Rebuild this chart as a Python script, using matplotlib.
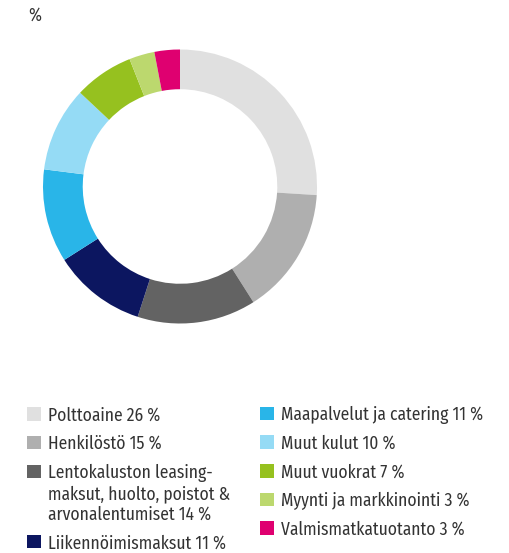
import matplotlib
matplotlib.use("Agg")
import matplotlib.pyplot as plt
from matplotlib import font_manager
from matplotlib.patches import Rectangle

names = ["Polttoaine", "Henkilöstö",
         "Lentokaluston leasing-\nmaksut, huolto, poistot &\narvonalentumiset",
         "Liikennöimismaksut", "Maapalvelut ja catering", "Muut kulut",
         "Muut vuokrat", "Myynti ja markkinointi", "Valmismatkatuotanto"]
values = [26, 15, 14, 11, 11, 10, 7, 3, 3]
colors = ["#e0e0e0", "#afafaf", "#636363", "#0c1660", "#29b5e8",
          "#95dbf5", "#96c11f", "#bcd86e", "#df0070"]

avail = {f.name for f in font_manager.fontManager.ttflist}
fam = next((f for f in ["Fira Sans Condensed", "Encode Sans Condensed",
                        "Roboto Condensed", "PT Sans Narrow"] if f in avail), "Roboto")
plt.rcParams['font.family'] = [fam, 'DejaVu Sans']

W, H = 510, 553
fig = plt.figure(figsize=(W / 100, H / 100), dpi=100)

cx, cy, R = 180, 186.5, 137
ax = fig.add_axes([(cx - R) / W, (H - cy - R) / H, 2 * R / W, 2 * R / H])
ax.pie(values, colors=colors, startangle=90, counterclock=False,
       radius=1, wedgeprops=dict(width=0.29, linewidth=0))
ax.set_xlim(-1, 1)
ax.set_ylim(-1, 1)
ax.set_aspect('equal')
ax.axis('off')

tc = "#333333"

# size font so that a reference label has the measured width
renderer = fig.canvas.get_renderer()
probe = fig.text(0, 0, "Maapalvelut ja catering 11 %", fontsize=12)
wpx = probe.get_window_extent(renderer).width
probe.remove()
fs = 12 * 203.0 / wpx

def fy(y):
    return 1 - y / H

fig.text(28 / W, fy(20.7), "%", fontsize=fs, color=tc, va='baseline', ha='left')

col_x = [27, 260]
baselines = [[420.6, 449.2, 478.0, 548.3], [420.3, 448.9, 477.5, 506.2, 534.9]]
line_pitch = 21.0
idx = 0
for c in range(2):
    for yb in baselines[c]:
        fig.patches.append(Rectangle((col_x[c] / W, fy(yb)), 14 / W, 13.5 / H,
                                     transform=fig.transFigure, facecolor=colors[idx],
                                     edgecolor='none'))
        lines = f"{names[idx]} {values[idx]} %".split("\n")
        for k, ln in enumerate(lines):
            fig.text((col_x[c] + 21) / W, fy(yb + k * line_pitch), ln,
                     fontsize=fs, color=tc, va='baseline', ha='left')
        idx += 1

fig.savefig("out.png", dpi=100)
